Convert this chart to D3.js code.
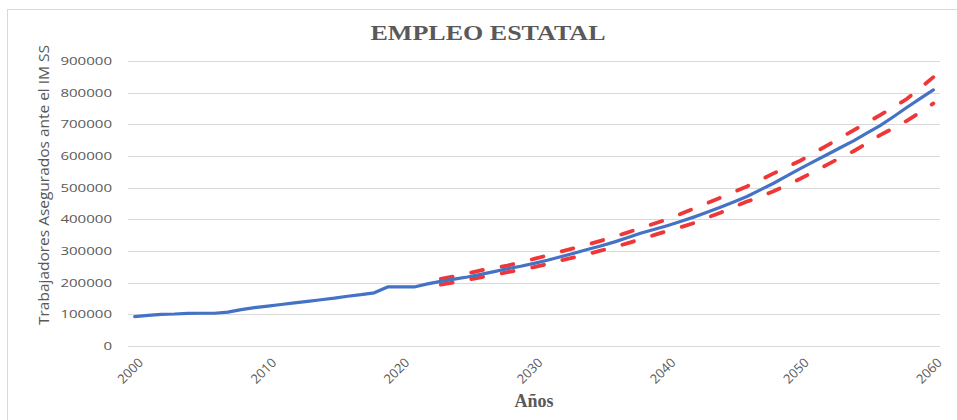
<!doctype html>
<html lang="es">
<head>
<meta charset="utf-8">
<title>Empleo estatal</title>
<script src="https://cdn.jsdelivr.net/npm/d3@7"></script>
<style>
  html, body { margin: 0; padding: 0; background: #fff; }
  svg { display: block; }
</style>
</head>
<body>
<script>
// años del eje x (categorias)
var years = d3.range(2000, 2061);
var xTicks = [2000, 2010, 2020, 2030, 2040, 2050, 2060];
var yTicks = [0, 100000, 200000, 300000, 400000, 500000, 600000, 700000, 800000, 900000];

// trabajadores asegurados (historico + proyeccion), 2000-2060
var empleo = [
  92600, 96500, 100000, 101000, 103000, 103500, 103500, 107000, 115000, 121000,
  126000, 131000, 136000, 141000, 146000, 151000, 157000, 162000, 168000, 186500,
  186500, 186500, 196000, 204000, 211000, 218000, 226000, 235000, 244000, 252000,
  261000, 271000, 282000, 293000, 305000, 316000, 328000, 342000, 356000, 368000,
  380000, 393000, 407000, 422000, 438000, 455000, 472000, 493000, 514000, 537000,
  560000, 582000, 604000, 626000, 648000, 672000, 696000, 724000, 753000, 781000,
  809000
];

// bandas de la proyeccion, 2023-2060
var bandaYears = d3.range(2023, 2061);
var limiteSup = [
  212000, 220000, 229000, 239000, 246000, 254000, 264000, 275000, 286000, 298000,
  309000, 320000, 332000, 345000, 358000, 372000, 386000, 400000, 417000, 434000,
  451000, 468000, 486000, 504000, 524000, 545000, 565000, 585000, 609000, 633000,
  657000, 681000, 705000, 729000, 754000, 780000, 814000, 849000
];
var limiteInf = [
  194000, 201000, 209000, 217000, 225000, 233000, 241000, 249000, 259000, 270000,
  280000, 290000, 301000, 312000, 324000, 337000, 350000, 363000, 375000, 388000,
  405000, 421000, 439000, 456000, 472000, 489000, 508000, 528000, 550000, 572000,
  594000, 615000, 640000, 666000, 688000, 711000, 738000, 766000
];

var width = 957, height = 420;
var margin = {top: 61, right: 17, bottom: 74, left: 128};

var svg = d3.select("body").append("svg")
    .attr("width", width)
    .attr("height", height);

// marco del grafico
svg.append("rect")
    .attr("x", 7.5).attr("y", 9.5)
    .attr("width", 1000).attr("height", 500)
    .attr("fill", "none")
    .attr("stroke", "#d9d9d9");

var x = d3.scalePoint()
    .domain(years)
    .range([margin.left, width - margin.right])
    .padding(0.5);

var y = d3.scaleLinear()
    .domain([0, 900000])
    .range([height - margin.bottom, margin.top]);

// lineas de cuadricula
svg.append("g")
    .selectAll("line")
    .data(yTicks)
    .enter().append("line")
    .attr("x1", margin.left)
    .attr("x2", width - margin.right)
    .attr("y1", function(d) { return Math.round(y(d)) + 0.5; })
    .attr("y2", function(d) { return Math.round(y(d)) + 0.5; })
    .attr("stroke", "#d9d9d9")
    .attr("stroke-width", 1);

// etiquetas eje y
svg.append("g")
    .selectAll("text")
    .data(yTicks)
    .enter().append("text")
    .attr("x", 112)
    .attr("y", function(d) { return y(d); })
    .attr("dy", "0.36em")
    .attr("text-anchor", "end")
    .attr("font-family", "'Open Sans', sans-serif")
    .attr("font-size", 11.5)
    .attr("fill", "#595959")
    .attr("textLength", function(d) { return String(d).length * 8.6; })
    .attr("lengthAdjust", "spacingAndGlyphs")
    .text(function(d) { return d; });

// etiquetas eje x
svg.append("g")
    .selectAll("text")
    .data(xTicks)
    .enter().append("text")
    .attr("transform", function(d) { return "translate(" + (x(d) + 3) + "," + 357 + ") rotate(-45)"; })
    .attr("text-anchor", "end")
    .attr("dy", "0.7em")
    .attr("font-family", "'Open Sans', sans-serif")
    .attr("font-size", 13)
    .attr("fill", "#595959")
    .text(function(d) { return d; });

var line = d3.line()
    .x(function(d) { return x(d[0]); })
    .y(function(d) { return y(d[1]); });

var sup = bandaYears.map(function(yr, i) { return [yr, limiteSup[i]]; });
var inf = bandaYears.map(function(yr, i) { return [yr, limiteInf[i]]; });
var real = years.map(function(yr, i) { return [yr, empleo[i]]; });

[sup, inf].forEach(function(serie) {
    svg.append("path")
        .datum(serie)
        .attr("d", line)
        .attr("fill", "none")
        .attr("stroke", "#ef3737")
        .attr("stroke-width", 3.8)
        .attr("stroke-linecap", "round")
        .attr("stroke-dasharray", "12,19");
});

svg.append("path")
    .datum(real)
    .attr("d", line)
    .attr("fill", "none")
    .attr("stroke", "#4472c4")
    .attr("stroke-width", 3.2)
    .attr("stroke-linejoin", "round")
    .attr("stroke-linecap", "round");

// titulo
svg.append("text")
    .attr("x", 488)
    .attr("y", 40)
    .attr("text-anchor", "middle")
    .attr("font-family", "'Liberation Serif', 'Times New Roman', serif")
    .attr("font-weight", "bold")
    .attr("font-size", 22)
    .attr("fill", "#595959")
    .attr("textLength", 235)
    .attr("lengthAdjust", "spacingAndGlyphs")
    .text("EMPLEO ESTATAL");

// titulo eje x
svg.append("text")
    .attr("x", 534)
    .attr("y", 407)
    .attr("text-anchor", "middle")
    .attr("font-family", "'Liberation Serif', 'Times New Roman', serif")
    .attr("font-weight", "bold")
    .attr("font-size", 18)
    .attr("fill", "#595959")
    .text("Años");

// titulo eje y
svg.append("text")
    .attr("transform", "translate(49,185) rotate(-90)")
    .attr("text-anchor", "middle")
    .attr("font-family", "'Liberation Sans Narrow', 'Open Sans', sans-serif")
    .attr("font-size", 15)
    .attr("fill", "#595959")
    .attr("textLength", 280)
    .attr("lengthAdjust", "spacingAndGlyphs")
    .text("Trabajadores  Asegurados ante el IM SS");
</script>
</body>
</html>
